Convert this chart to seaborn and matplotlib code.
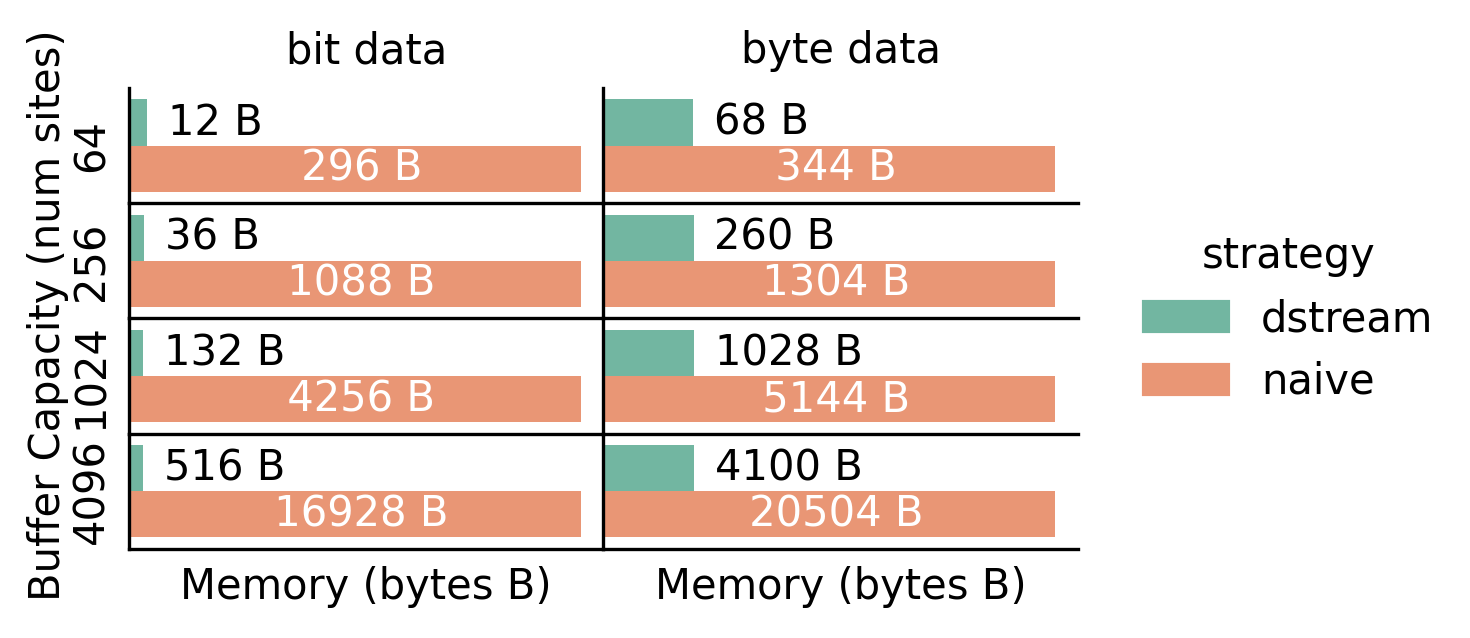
import pandas as pd
import matplotlib
matplotlib.use("Agg")
import matplotlib.pyplot as plt
import seaborn as sns

plt.rcParams["font.family"] = ["DejaVu Sans"]
plt.rcParams["font.size"] = 10
plt.rcParams["axes.titlesize"] = 10

capacities = [64, 256, 1024, 4096]
data_types = ["bit data", "byte data"]
strategies = ["dstream", "naive"]

# memory in bytes, per data type, per capacity
dstream_bit = [12, 36, 132, 516]
naive_bit = [296, 1088, 4256, 16928]
dstream_byte = [68, 260, 1028, 4100]
naive_byte = [344, 1304, 5144, 20504]

rows = []
for i, cap in enumerate(capacities):
    rows.append((cap, "bit data", "dstream", dstream_bit[i]))
    rows.append((cap, "bit data", "naive", naive_bit[i]))
    rows.append((cap, "byte data", "dstream", dstream_byte[i]))
    rows.append((cap, "byte data", "naive", naive_byte[i]))
df = pd.DataFrame(rows, columns=["capacity", "data", "strategy", "memory"])
df["cap_label"] = df["capacity"].astype(str)

palette = sns.color_palette("Set2", 2)

g = sns.FacetGrid(df, row="capacity", col="data", row_order=capacities,
                  col_order=data_types, sharex=False, sharey=False,
                  height=1, aspect=2)
g.map_dataframe(sns.barplot, x="memory", y="cap_label", hue="strategy",
                hue_order=strategies, palette=palette, orient="h",
                errorbar=None)
g.figure.set_size_inches(4.9, 2.127)

for r, cap in enumerate(capacities):
    for c, dt in enumerate(data_types):
        ax = g.axes[r, c]
        ax.patch.set_visible(False)
        ax.set_xticks([])
        ax.set_yticks([])
        ax.set_title(dt if r == 0 else "")
        ax.set_ylabel(str(cap) if c == 0 else "")
        ax.set_xlabel("Memory (bytes B)" if r == len(capacities) - 1 else "")
        conts = ax.containers
        ax.bar_label(conts[0], labels=[f"{v:.0f} B" for v in conts[0].datavalues],
                     padding=5)
        ax.bar_label(conts[1], labels=[f" {v:.0f} B" for v in conts[1].datavalues],
                     label_type="center", color="white")
        if ax.get_legend() is not None:
            ax.get_legend().remove()

g.figure.subplots_adjust(left=129 / 1470, right=1078 / 1470,
                         top=1 - 88 / 638, bottom=1 - 549 / 638,
                         wspace=0, hspace=0)
g.figure.text(48 / 1470, 0.5 + 4 / 638, "Buffer Capacity (num sites)",
              rotation=90, ha="center", va="center")

handles = [plt.Rectangle((0, 0), 1, 1, color=b.patches[0].get_facecolor())
           for b in g.axes[0, 0].containers]
g.figure.legend(handles, strategies, title="strategy", frameon=False,
                loc="center", bbox_to_anchor=(1289 / 1470, 0.5))

g.figure.savefig("out.png", dpi=300)
